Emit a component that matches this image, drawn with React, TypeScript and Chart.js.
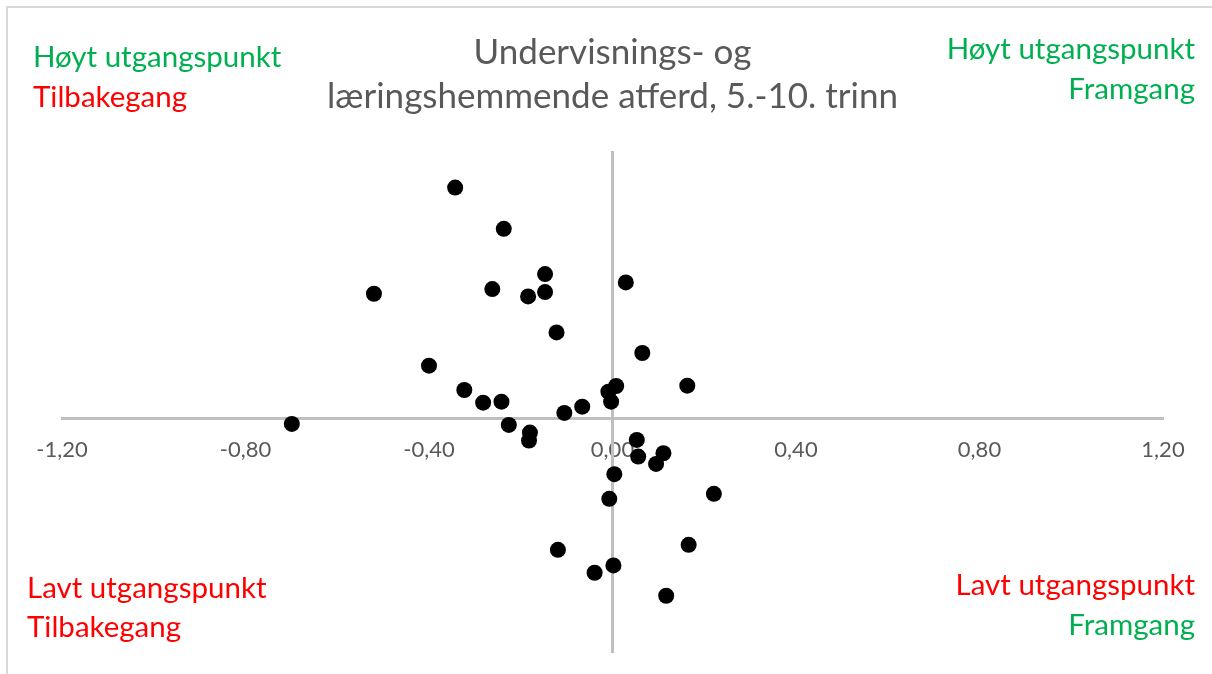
import React, { useEffect, useRef } from "react";
import { Chart, registerables } from "chart.js";

Chart.register(...registerables);

const titleLines = ["Undervisnings- og", "læringshemmende atferd, 5.-10. trinn"];

const xTickValues = [-1.2, -0.8, -0.4, 0, 0.4, 0.8, 1.2];
const xTickLabels = ["-1,20", "-0,80", "-0,40", "0,00", "0,40", "0,80", "1,20"];

// change (x) vs starting point (y)
const xValues = [
  -0.343, -0.237, -0.147, -0.52, -0.262, -0.184, -0.147, 0.029, -0.122, 0.065,
  -0.4, -0.323, -0.282, -0.242, -0.009, 0.008, -0.003, 0.163, -0.066, -0.105,
  -0.699, -0.226, -0.18, -0.182, 0.053, 0.111, 0.056, 0.095, 0.004, 0.221,
  -0.007, 0.166, -0.119, 0.002, -0.039, 0.117,
];
const yValues = [
  0.695, 0.571, 0.435, 0.376, 0.39, 0.368, 0.381, 0.41, 0.26, 0.198,
  0.16, 0.087, 0.049, 0.052, 0.082, 0.099, 0.052, 0.1, 0.037, 0.018,
  -0.015, -0.018, -0.041, -0.065, -0.063, -0.103, -0.113, -0.135, -0.166, -0.225,
  -0.24, -0.378, -0.393, -0.44, -0.462, -0.531,
];

const GREEN = "#00B050";
const RED = "#FF0000";
const FONT = "Lato";

const quadrantLabels = [
  { lines: ["Høyt utgangspunkt", "Tilbakegang"], colors: [GREEN, RED], align: "left" },
  { lines: ["Høyt utgangspunkt", "Framgang"], colors: [GREEN, GREEN], align: "right" },
  { lines: ["Lavt utgangspunkt", "Tilbakegang"], colors: [RED, RED], align: "left" },
  { lines: ["Lavt utgangspunkt", "Framgang"], colors: [RED, GREEN], align: "right" },
];

const cornerPlugin = {
  id: "cornerLabels",
  beforeDraw(chart: any) {
    const ctx = chart.ctx;
    ctx.save();
    ctx.fillStyle = "#ffffff";
    ctx.fillRect(0, 0, chart.width, chart.height);
    ctx.strokeStyle = "#d9d9d9";
    ctx.lineWidth = 2;
    ctx.strokeRect(7, 7, chart.width + 50, chart.height + 50);
    ctx.restore();
  },
  afterDraw(chart: any) {
    const ctx = chart.ctx;
    const W = chart.width;
    const pos = [
      { x: 33, y: [57, 97] },
      { x: W - 17, y: [49, 89] },
      { x: 27, y: [588, 627] },
      { x: W - 17, y: [585, 625] },
    ];
    ctx.save();
    ctx.font = `29.5px ${FONT}`;
    ctx.textBaseline = "middle";
    quadrantLabels.forEach((q, i) => {
      ctx.textAlign = q.align;
      q.lines.forEach((line, j) => {
        ctx.fillStyle = q.colors[j];
        ctx.fillText(line, pos[i].x, pos[i].y[j]);
      });
    });
    ctx.restore();
  },
};

export default function App() {
  const ref = useRef<HTMLCanvasElement | null>(null);

  useEffect(() => {
    if (!ref.current) return;
    const points = xValues.map((x, i) => ({ x, y: yValues[i] }));
    const chart = new Chart(ref.current, {
      type: "scatter",
      data: {
        datasets: [
          {
            data: points,
            backgroundColor: "#000000",
            borderWidth: 0,
            pointRadius: 8,
            pointHoverRadius: 8,
          },
        ],
      },
      options: {
        animation: false,
        responsive: false,
        events: [],
        layout: { padding: { left: 62, right: 49, top: 0, bottom: 22 } },
        plugins: {
          legend: { display: false },
          tooltip: { enabled: false },
          title: {
            display: true,
            text: titleLines,
            color: "#595959",
            font: { family: FONT, size: 35, weight: "normal", lineHeight: 1.28 },
            padding: { top: 30, bottom: 33 },
          },
        },
        scales: {
          x: {
            type: "linear",
            min: -1.2,
            max: 1.2,
            position: { y: 0 },
            grid: { display: false, drawTicks: false },
            border: { display: true, color: "#bfbfbf", width: 3 },
            afterBuildTicks: (scale: any) => {
              scale.ticks = xTickValues.map((v) => ({ value: v }));
            },
            afterFit: (scale: any) => {
              scale.height = 0;
            },
            ticks: {
              color: "#595959",
              font: { family: FONT, size: 22 },
              padding: 18,
              maxRotation: 0,
              autoSkip: false,
              callback: (_v: any, i: number) => xTickLabels[i],
            },
          },
          y: {
            type: "linear",
            min: -0.7,
            max: 0.8,
            position: { x: 0 },
            grid: { display: false, drawTicks: false },
            border: { display: true, color: "#bfbfbf", width: 3 },
            ticks: { display: false },
            afterFit: (scale: any) => {
              scale.width = 0;
            },
          },
        },
      },
      plugins: [cornerPlugin],
    });
    return () => chart.destroy();
  }, []);

  return (
    <div style={{ position: "fixed", left: 0, top: 0, width: 1212, height: 674, background: "#fff" }}>
      <canvas ref={ref} width={1212} height={674} />
    </div>
  );
}
